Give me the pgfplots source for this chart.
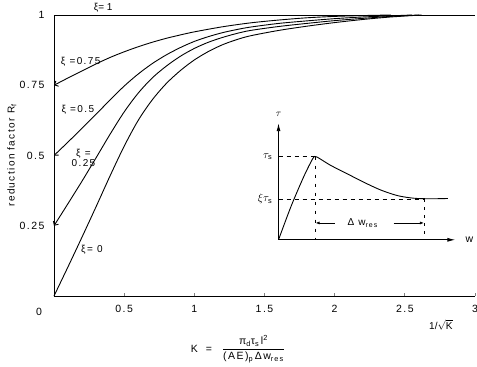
\documentclass[border=0pt]{standalone}
\usepackage{fontspec}
\setmainfont{Liberation Sans}
\newfontfamily\spaced{Liberation Sans}[LetterSpace=14]
\usepackage{pgfplots}
\pgfplotsset{compat=1.18}
\usetikzlibrary{arrows.meta}
\begin{document}
\begin{tikzpicture}[x=1pt,y=1pt]
\begin{axis}[
  at={(0,0)}, anchor=south west,
  width=421pt, height=281pt, scale only axis,
  xmin=0, xmax=3, ymin=0, ymax=1,
  axis x line*=bottom, axis y line*=left,
  axis line style={line width=0.9pt},
  xtick={0.5,1,1.5,2,2.5,3},
  xticklabels={0.5,1,1.5,2,2.5,3},
  ytick={0.25,0.5,0.75,1},
  yticklabels={0.25,0.5,0.75,1},
  ytick style={draw=none},
  xtick style={line width=0.8pt},
  tick align=inside, major tick length=3pt,
  /pgf/number format/assume math mode=true,
  tick label style={font=\fontsize{10.5}{12}\spaced},
  xticklabel style={yshift=-6pt},
  yticklabel style={xshift=-6pt},
  clip=false,
  every axis plot/.append style={line width=0.9pt, black},
]
% xi = 1
\addplot[no marks] coordinates {(0,1) (3,1)};
% xi = 0.75
\addplot[no marks, smooth, {Straight Barb[length=3pt,width=6pt]}-] coordinates {
(0,0.75) (0.1,0.776) (0.2,0.801) (0.3,0.826) (0.4,0.849) (0.5,0.869) (0.6,0.887) (0.7,0.903)
(0.8,0.917) (0.9,0.929) (1.0,0.94) (1.2,0.958) (1.4,0.972) (1.6,0.982) (1.8,0.99) (2.0,0.995) (2.2,0.998) (2.4,1.0)};
% xi = 0.5
\addplot[no marks, smooth, {Straight Barb[length=3pt,width=6pt]}-] coordinates {
(0,0.5) (0.1,0.548) (0.2,0.597) (0.3,0.647) (0.4,0.698) (0.5,0.747) (0.6,0.79) (0.7,0.827)
(0.8,0.858) (0.9,0.884) (1.0,0.906) (1.1,0.923) (1.2,0.937) (1.3,0.948) (1.4,0.957) (1.6,0.97)
(1.8,0.979) (2.0,0.987) (2.2,0.993) (2.4,0.997) (2.55,1.0)};
% xi = 0.25
\addplot[no marks, smooth, {Straight Barb[length=3pt,width=6pt]}-] coordinates {
(0,0.25) (0.1,0.329) (0.2,0.409) (0.3,0.492) (0.4,0.576) (0.5,0.655) (0.6,0.722) (0.7,0.776)
(0.8,0.818) (0.9,0.853) (1.0,0.881) (1.1,0.903) (1.2,0.92) (1.3,0.934) (1.4,0.945) (1.6,0.959)
(1.8,0.97) (2.0,0.98) (2.2,0.988) (2.4,0.995) (2.6,1.0)};
% xi = 0
\addplot[no marks, smooth] coordinates {
(0,0) (0.1,0.104) (0.2,0.21) (0.3,0.318) (0.4,0.428) (0.5,0.533) (0.6,0.625) (0.7,0.698)
(0.8,0.756) (0.9,0.802) (1.0,0.84) (1.1,0.87) (1.2,0.894) (1.3,0.912) (1.4,0.926) (1.6,0.945)
(1.8,0.96) (2.0,0.973) (2.2,0.984) (2.4,0.993) (2.62,1.0)};
% inset axes
\addplot[no marks, line width=0.9pt, -{Latex[length=8pt,width=4pt]}] coordinates {(1.6,0.2) (1.6,0.615)};
\addplot[no marks, line width=0.9pt, -{Latex[length=8pt,width=4pt]}] coordinates {(1.6,0.2) (2.86,0.2)};
% inset curve
\addplot[no marks, smooth, line width=0.9pt] coordinates {
(1.6,0.2) (1.69,0.32) (1.78,0.425) (1.845,0.49) (1.864,0.496) (1.89,0.49) (1.971,0.465) (2.093,0.434)
(2.207,0.405) (2.329,0.377) (2.45,0.357) (2.564,0.348) (2.68,0.346) (2.807,0.347)};
% dashed guides
\addplot[no marks, line width=0.8pt, dash pattern=on 4pt off 4pt] coordinates {(1.6,0.496) (1.864,0.496)};
\addplot[no marks, line width=0.8pt, dash pattern=on 3pt off 6pt] coordinates {(1.864,0.496) (1.864,0.2)};
\addplot[no marks, line width=0.8pt, dash pattern=on 4pt off 4pt] coordinates {(1.6,0.345) (2.636,0.345)};
\addplot[no marks, line width=0.6pt, dash pattern=on 3pt off 5pt] coordinates {(2.636,0.345) (2.636,0.2)};
% delta w arrows
\addplot[no marks, line width=0.7pt, -{Latex[length=4pt,width=3pt]}] coordinates {(2.0,0.26) (1.864,0.26)};
\addplot[no marks, line width=0.7pt, -{Latex[length=4pt,width=3pt]}] coordinates {(2.42,0.26) (2.636,0.26)};
% labels
\node[font=\fontsize{10}{12}\selectfont] at (axis cs:0.35,1.027) {ξ= 1};
\node[font=\fontsize{10}{12}\spaced] at (axis cs:0.19,0.834) {ξ =0.75};
\node[font=\fontsize{10}{12}\spaced] at (axis cs:0.17,0.663) {ξ =0.5};
\node[font=\fontsize{10}{12}\spaced, align=center, inner sep=0pt] at (axis cs:0.21,0.49) {ξ =\\[-2pt]0.25};
\node[font=\fontsize{10}{12}\spaced] at (axis cs:0.27,0.164) {ξ= 0};
\node[font=\fontsize{10.5}{12}\spaced] at (axis cs:0,0) [xshift=-15pt, yshift=-16pt] {0};
\node[font=\fontsize{10}{12}\spaced, rotate=90] at (axis cs:-0.3,0.5) {reduction factor R\textsubscript{f}};
\node[font=\fontsize{10}{12}\selectfont] at (axis cs:1.6,0.645) {$\tau$};
\node[font=\fontsize{10.5}{12}\selectfont, anchor=east] at (axis cs:1.58,0.496) {$\tau_{\mathrm{s}}$};
\node[font=\fontsize{10.5}{12}\selectfont, anchor=east] at (axis cs:1.58,0.345) {$\xi\tau_{\mathrm{s}}$};
\node[font=\fontsize{10}{12}\spaced] at (axis cs:2.2,0.26) {Δ w\textsubscript{res}};
\node[font=\fontsize{10.5}{12}\spaced] at (axis cs:2.96,0.2) {w};
\node[font=\fontsize{10}{12}\selectfont] at (axis cs:2.757,-0.103) {1/$\sqrt{\mbox{K}}$};
\node[font=\fontsize{10.5}{12}\spaced, anchor=west] at (axis cs:0.95,-0.19) {K\hspace{8pt}=\hspace{10pt}$\displaystyle\frac{\mbox{\fontsize{10.5}{12}\spaced π\textsubscript{d}τ\textsubscript{s}\,l\textsuperscript{2}}}{\mbox{\fontsize{10.5}{12}\spaced (AE)\textsubscript{p}\,Δw\textsubscript{res}}}$};
\end{axis}
\pgfresetboundingbox
\path[use as bounding box] (-54,-71) rectangle (423,296);
\end{tikzpicture}
\end{document}
